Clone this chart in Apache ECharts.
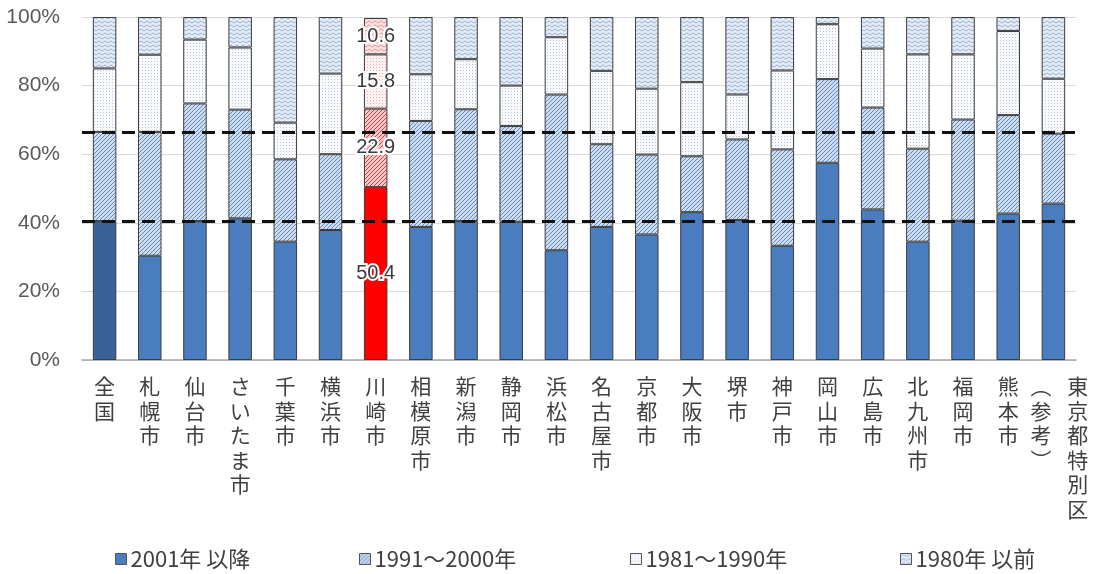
<!DOCTYPE html>
<html>
<head>
<meta charset="utf-8">
<script src="https://cdn.jsdelivr.net/npm/echarts@6/dist/echarts.min.js"></script>
<style>
html,body{margin:0;padding:0;background:#fff;}
#chart{width:1093px;height:574px;}
</style>
</head>
<body>
<div id="chart"></div>
<script>
// ---- data ----
const categories = ['全国','札幌市','仙台市','さいたま市','千葉市','横浜市','川崎市','相模原市','新潟市','静岡市','浜松市','名古屋市','京都市','大阪市','堺市','神戸市','岡山市','広島市','北九州市','福岡市','熊本市','（参考）東京都特別区'];
const seriesNames = ['2001年 以降','1991～2000年','1981～1990年','1980年 以前'];
const s2001 = [40.5,30.4,40.5,41.3,34.5,37.9,50.4,38.8,40.5,40.3,32.0,38.8,36.6,43.1,40.8,33.3,57.5,43.9,34.5,40.6,42.7,45.6];
const s1991 = [26.0,36.1,34.3,31.7,24.0,22.1,22.9,30.9,32.6,27.9,45.4,24.1,23.3,16.3,23.5,28.1,24.4,29.7,27.1,29.5,28.7,20.4];
const s1981 = [18.5,22.5,18.6,18.1,10.7,23.5,15.8,13.6,14.6,11.8,16.7,21.4,19.2,21.6,13.1,23.0,16.0,17.2,27.5,19.0,24.5,16.0];
const s1980 = [15.0,11.0,6.6,8.9,30.8,16.5,10.6,16.7,12.3,20.0,5.9,15.7,20.9,19.0,22.6,15.6,2.1,9.2,10.9,10.9,4.1,18.0];
const yTicks = [0,20,40,60,80,100];
const highlightIndex = 6;   // 川崎市
const nationalIndex = 0;    // 全国

// ---- patterns ----
function makeCanvas(w,h){const c=document.createElement('canvas');c.width=w;c.height=h;return c;}
function hatch(bg,fg){
  const c=makeCanvas(4,4),x=c.getContext('2d');
  x.fillStyle=bg;x.fillRect(0,0,4,4);
  x.strokeStyle=fg;x.lineWidth=1;
  x.beginPath();x.moveTo(-1,5);x.lineTo(5,-1);x.moveTo(-1,1);x.lineTo(1,-1);x.moveTo(3,5);x.lineTo(5,3);x.stroke();
  return {image:c,repeat:'repeat'};
}
function dots(bg,fg){
  const c=makeCanvas(3,3),x=c.getContext('2d');
  x.fillStyle=bg;x.fillRect(0,0,3,3);
  x.fillStyle=fg;x.fillRect(1,1,1,1);
  return {image:c,repeat:'repeat'};
}
function wave(bg,fg){
  const c=makeCanvas(6,4),x=c.getContext('2d');
  x.fillStyle=bg;x.fillRect(0,0,6,4);
  x.strokeStyle=fg;x.lineWidth=1;
  x.beginPath();x.moveTo(0,3);x.lineTo(3,1);x.lineTo(6,3);x.stroke();
  return {image:c,repeat:'repeat'};
}
const blueStyles = [
  '#4a7dbf',
  hatch('#cddcef','#6389c2'),
  dots('#f8fafd','#b8c4d6'),
  wave('#e4ecf6','#9ab2d4')
];
const redStyles = [
  '#ff0000',
  hatch('#f6c9c9','#e03a3a'),
  dots('#fdf1f1','#eab0b0'),
  wave('#fbe0e0','#e79a9a')
];
const nationalColor = '#3a6298';

const allData = [s2001,s1991,s1981,s1980];
const border = {borderColor:'#3c3c3c',borderWidth:1};

const series = allData.map((arr,si)=>({
  name: seriesNames[si],
  type:'bar',
  stack:'total',
  barWidth:'52%',
  itemStyle:Object.assign({color:blueStyles[si]},border),
  data: arr.map((v,i)=>{
    if(i===highlightIndex){
      return {value:v,itemStyle:Object.assign({color:redStyles[si]},border),
        label:{show:true,position:'inside',formatter:p=>p.value.toFixed(1),
          color:'#3a3a3a',fontSize:20,fontFamily:'Arial, "Liberation Sans", sans-serif',
          textBorderColor:'#fff',textBorderWidth:4}};
    }
    if(si===0 && i===nationalIndex){
      return {value:v,itemStyle:Object.assign({color:nationalColor},border)};
    }
    return v;
  }),
  emphasis:{disabled:true}
}));

// dashed reference lines at the 全国 levels
series[3].markLine = {
  silent:true, symbol:'none', z:10,
  label:{show:false},
  lineStyle:{color:'#111',width:3,type:[13,7]},
  data:[{yAxis:s2001[nationalIndex]},{yAxis:s2001[nationalIndex]+s1991[nationalIndex]}]
};

function verticalLabel(v){
  if(v.startsWith('（参考）')){
    const left=['︵','参','考','︶'];
    const right=Array.from(v.replace('（参考）',''));
    const lines=[];
    for(let i=0;i<right.length;i++){
      lines.push('{r|'+(left[i]||'\u3000')+'\u2002\u2005'+right[i]+'}');
    }
    return lines.join('\n');
  }
  return Array.from(v).join('\n');
}

const legendLefts=[110,354,625,895];
const legends = seriesNames.map((n,i)=>({
  data:[n], left:legendLefts[i], top:543, itemWidth:11, itemHeight:11, itemGap:4,
  icon:'rect', selectedMode:false,
  textStyle:{fontSize:22,color:'#404040',fontFamily:'"Noto Sans CJK JP", sans-serif',padding:[0,0,0,-1]},
  itemStyle:{borderColor:'#555',borderWidth:1}
}));

const chart = echarts.init(document.getElementById('chart'),null,{renderer:'canvas'});
chart.setOption({
  animation:false,
  backgroundColor:'#fff',
  grid:{left:82,right:17,top:17,bottom:214},
  legend:legends,
  xAxis:{
    type:'category', data:categories,
    axisLine:{lineStyle:{color:'#a6a6a6',width:1.5}},
    axisTick:{show:false},
    axisLabel:{interval:0,margin:14,formatter:verticalLabel,color:'#404040',fontSize:21,lineHeight:24.5,
      fontFamily:'"Noto Sans CJK JP", sans-serif',verticalAlign:'top',
      rich:{r:{fontSize:21,lineHeight:24.5,color:'#404040',fontFamily:'"Noto Sans CJK JP", sans-serif',padding:[0,0,0,12]}}}
  },
  yAxis:{
    type:'value', min:yTicks[0], max:yTicks[yTicks.length-1], interval:20,
    axisLine:{show:false}, axisTick:{show:false},
    splitLine:{lineStyle:{color:'#d9d9d9',width:1}},
    axisLabel:{formatter:'{value}%',color:'#595959',fontSize:21,margin:22,
      fontFamily:'"Liberation Sans", Arial, sans-serif'}
  },
  series:series
});
</script>
</body>
</html>
